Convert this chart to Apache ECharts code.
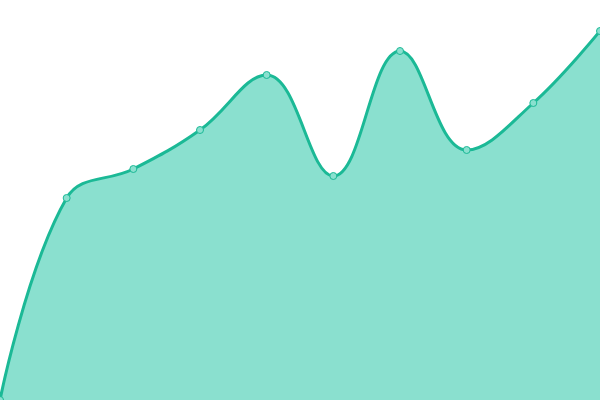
<!DOCTYPE html>
<html>
<head>
<meta charset="utf-8">
<script src="https://cdn.jsdelivr.net/npm/echarts@6/dist/echarts.min.js"></script>
<style>html,body{margin:0;padding:0;background:#fff;}#c{width:600px;height:400px;}</style>
</head>
<body>
<div id="c"></div>
<script>
var categories = ['1','2','3','4','5','6','7','8','9','10'];
var values = [0, 202, 231, 270, 325, 224, 349, 250, 297, 369];
var yMin = 0;
var yMax = 400;

var chart = echarts.init(document.getElementById('c'), null, {renderer: 'canvas'});
chart.setOption({
  animation: false,
  grid: {left: 0, right: 0, top: 0, bottom: 0},
  xAxis: {type: 'category', data: categories, boundaryGap: false, show: false},
  yAxis: {type: 'value', min: yMin, max: yMax, show: false},
  series: [{
    type: 'line',
    data: values,
    smooth: 0.4,
    symbol: 'circle',
    symbolSize: 7,
    showAllSymbol: true,
    lineStyle: {color: '#1bb996', width: 3},
    itemStyle: {color: '#8ae0cf', borderColor: '#1bb996', borderWidth: 1},
    areaStyle: {color: '#8ae0cf', opacity: 1}
  }]
});
</script>
</body>
</html>
